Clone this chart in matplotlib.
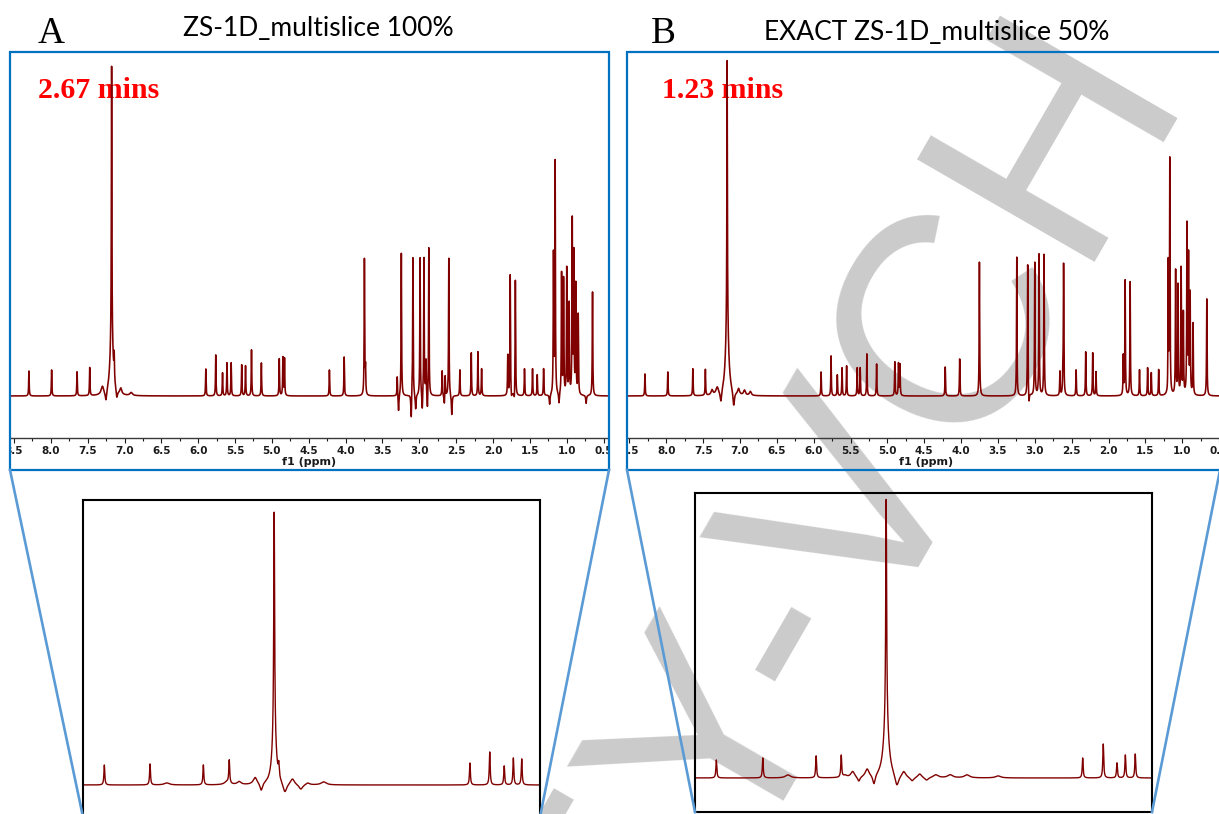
import numpy as np
import matplotlib
matplotlib.use("Agg")
import matplotlib.pyplot as plt
from matplotlib.patches import Rectangle
from matplotlib.lines import Line2D

W, H = 1219, 814

# ---- peak tables (shift in ppm, height in px above baseline)
a_ppm = [8.297, 7.989, 7.644, 7.472, 7.175, 7.14, 5.897, 5.762, 5.67, 5.61, 5.553,
         5.41, 5.358, 5.277, 5.143, 4.90, 4.851, 4.829, 4.22, 4.02, 3.745, 3.73,
         3.30, 3.244, 3.087, 2.99, 2.937, 2.871, 2.91, 2.69, 2.65, 2.60, 2.45,
         2.295, 2.205, 2.155, 1.80, 1.767, 1.697, 1.573, 1.464, 1.40, 1.314,
         1.18, 1.157, 1.07, 1.043, 1.00, 0.967, 0.925, 0.904, 0.877, 0.844, 0.65]
a_height = [25, 26, 24, 28, 274, 24, 27, 41, 23, 33, 33,
            31, 30, 46, 33, 37, 38, 37, 26, 39, 136, 25,
            20, 143, 140, 138, 138, 149, 34, 25, 22, 138, 26,
            43, 44, 27, 40, 121, 117, 27, 27, 21, 27,
            139, 232, 121, 115, 126, 90, 173, 139, 109, 80, 104]
# broad parts, ringing and phase dips: shift, height, half width
a_broad_ppm = [7.175, 7.30, 7.252, 7.105, 7.05, 6.91, 3.282, 3.11, 3.05, 2.96, 2.89,
               2.66, 2.56, 1.75, 1.71, 1.232, 1.105, 0.737]
a_broad_height = [56, 8, -11, -9, 6, 3, -17, -25, -15, -19, -19,
                  -11, -20, -6, -10, -10, -11, -8]
a_broad_width = [0.025, 0.02, 0.012, 0.012, 0.015, 0.02, 0.006, 0.006, 0.006, 0.006, 0.006,
                 0.006, 0.006, 0.006, 0.006, 0.006, 0.006, 0.006]

b_ppm = [8.29, 7.98, 7.64, 7.47, 7.175, 5.90, 5.765, 5.68, 5.616, 5.554, 5.41, 5.37,
         5.279, 5.147, 4.90, 4.85, 4.83, 4.216, 4.02, 3.752, 3.245, 3.097, 3.001,
         2.943, 2.875, 2.66, 2.62, 2.61, 2.44, 2.31, 2.215, 2.17, 1.80, 1.775, 1.707,
         1.58, 1.47, 1.42, 1.32, 1.19, 1.169, 1.09, 1.057, 1.015, 0.985, 0.936,
         0.915, 0.893, 0.853, 0.667]
b_height = [22, 24, 27, 26, 267, 24, 40, 21, 28, 30, 28, 28,
            42, 32, 34, 32, 31, 29, 37, 134, 144, 132, 133,
            141, 141, 24, 20, 130, 26, 44, 43, 24, 39, 115, 114,
            26, 28, 23, 26, 131, 234, 124, 109, 126, 81, 168,
            136, 99, 76, 97]
b_broad_ppm = [7.175, 7.38, 7.31, 7.26, 7.086, 7.02, 6.94, 6.86, 3.24, 3.08, 1.20, 0.85]
b_broad_height = [69, 5, 7, -12, -15, 6, 5, 4, -9, -12, -5, -6]
b_broad_width = [0.025, 0.015, 0.02, 0.012, 0.012, 0.015, 0.015, 0.015, 0.006, 0.006,
                 0.006, 0.006]

# expanded region under each spectrum
za_ppm = [7.382, 7.322, 7.252, 7.218, 7.159, 7.153, 6.902, 6.876, 6.857, 6.845, 6.834]
za_height = [20, 21, 20, 23, 228, 12, 22, 33, 19, 27, 26]
za_broad_ppm = [7.159, 7.30, 7.221, 7.205, 7.184, 7.176, 7.145, 7.135, 7.124, 7.115, 7.094]
za_broad_height = [45, 2, 3, 3, 7, -8, -10, 6, -5, 2, 3]
za_broad_width = [0.0033, 0.004, 0.004, 0.003, 0.003, 0.002, 0.003, 0.003, 0.003, 0.003, 0.004]

zb_ppm = [7.382, 7.321, 7.251, 7.218, 7.159, 6.901, 6.874, 6.856, 6.845, 6.832]
zb_height = [18, 20, 22, 22, 224, 20, 34, 15, 23, 24]
zb_broad_ppm = [7.159, 7.288, 7.213, 7.203, 7.195, 7.184, 7.175, 7.145, 7.136, 7.125,
                7.115, 7.106, 7.094, 7.075, 7.053, 7.012]
zb_broad_height = [55, 3, 2, 6, -5, 8, -10, -12, 6, -4, 4, -3, 3, 3, 3, 2]
zb_broad_width = [0.004, 0.004, 0.003, 0.003, 0.002, 0.003, 0.002, 0.003, 0.003, 0.003,
                  0.003, 0.003, 0.004, 0.004, 0.004, 0.004]

ppm_ticks = [8.5, 8.0, 7.5, 7.0, 6.5, 6.0, 5.5, 5.0, 4.5, 4.0, 3.5, 3.0, 2.5, 2.0, 1.5, 1.0, 0.5]
ppm_minor = [8.25, 7.75, 7.25, 6.75, 6.25, 5.75, 5.25, 4.75, 4.25, 3.75, 3.25, 2.75,
             2.25, 1.75, 1.25, 0.75]

SPEC = '#800000'
BLUE = '#0070C0'
LIGHTBLUE = '#5B9BD5'


def fbox(x0, y0, x1, y1):
    # pixel box (top-left origin) -> figure fraction rect
    return [x0 / W, 1 - y1 / H, (x1 - x0) / W, (y1 - y0) / H]


def lorentz_sum(grid, pos, hgt, wid):
    y = np.zeros_like(grid)
    for p, h, w in zip(pos, hgt, wid):
        y += h / (1 + ((grid - p) / w) ** 2)
    return y


fig = plt.figure(figsize=(W / 100, H / 100), dpi=100)

# watermark, behind everything
fig.text(1190 / W, 1 - 95 / H, 'WILEY-VCH', rotation=60, rotation_mode='anchor',
         ha='right', va='baseline', fontsize=214, family='Liberation Sans',
         color='#cbcbcb', zorder=-1)


def top_panel(frame, axbox, xlim, pos, hgt, bpos, bhgt, bwid, timing, tx):
    rect = Rectangle((frame[0] / W, 1 - frame[3] / H), (frame[2] - frame[0]) / W,
                     (frame[3] - frame[1]) / H, transform=fig.transFigure,
                     fill=False, edgecolor=BLUE, lw=1.6, zorder=1)
    fig.patches.append(rect)

    ax = fig.add_axes(fbox(*axbox))
    ax.set_facecolor('none')
    grid = np.linspace(8.7, 0.2, 26000)
    y = lorentz_sum(grid, pos, hgt, [0.004] * len(pos)) + lorentz_sum(grid, bpos, bhgt, bwid)
    ax.plot(grid, y, color=SPEC, lw=1.15, zorder=2)
    ax.set_xlim(*xlim)
    ax.set_ylim(-42, 343)
    for s in ['top', 'left', 'right']:
        ax.spines[s].set_visible(False)
    ax.spines['bottom'].set_color('#3a3a3a')
    ax.spines['bottom'].set_linewidth(1.0)
    ax.set_yticks([])
    ax.set_xticks(ppm_ticks)
    ax.set_xticklabels(['%.1f' % t for t in ppm_ticks])
    ax.set_xticks(ppm_minor, minor=True)
    ax.tick_params(axis='x', which='major', length=3.5, width=0.8, pad=2.5,
                   labelsize=7.5, colors='#1a1a1a')
    ax.tick_params(axis='x', which='minor', length=2.5, width=0.8, colors='#1a1a1a')
    for lab in ax.get_xticklabels():
        lab.set_fontweight('bold')
        lab.set_clip_on(True)
        lab.set_clip_path(rect)
    ax.set_xlabel('f1 (ppm)', fontsize=8, fontweight='bold', labelpad=0.3, color='#1a1a1a')
    ax.text(tx / W, 1 - 98 / H, timing, transform=fig.transFigure, color='#ff0000',
            fontsize=21.5, fontweight='bold', family='Liberation Serif', zorder=1)
    return ax


def zoom_panel(axbox, ylim, pos, hgt, bpos, bhgt, bwid):
    ax = fig.add_axes(fbox(*axbox))
    ax.set_facecolor('none')
    grid = np.linspace(7.45, 6.77, 9000)
    y = lorentz_sum(grid, pos, hgt, [0.0007] * len(pos)) + lorentz_sum(grid, bpos, bhgt, bwid)
    ax.plot(grid, y, color=SPEC, lw=1.0)
    ax.set_xlim(7.41, 6.81)
    ax.set_ylim(*ylim)
    ax.set_xticks([])
    ax.set_yticks([])
    for s in ax.spines.values():
        s.set_color('black')
        s.set_linewidth(1.5)
    return ax


frame_a = (10, 52, 609, 470)
frame_b = (627, 52, 1224, 470)
zoom_a = (83, 500, 540, 817)
zoom_b = (695, 493, 1152, 812)

top_panel(frame_a, (11, 53, 608, 438), (8.54, 0.44), a_ppm, a_height,
          a_broad_ppm, a_broad_height, a_broad_width, '2.67 mins', 38)
top_panel(frame_b, (628, 53, 1225, 438), (8.52, 0.42), b_ppm, b_height,
          b_broad_ppm, b_broad_height, b_broad_width, '1.23 mins', 662)
zoom_panel(zoom_a, (-32, 285), za_ppm, za_height, za_broad_ppm, za_broad_height, za_broad_width)
zoom_panel(zoom_b, (-34, 285), zb_ppm, zb_height, zb_broad_ppm, zb_broad_height, zb_broad_width)

# connector lines from spectrum frame to the expansion
for frame, zbox, right_x in [(frame_a, zoom_a, frame_a[2]), (frame_b, zoom_b, 1220)]:
    fig.add_artist(Line2D([frame[0] / W, zbox[0] / W], [1 - frame[3] / H, 1 - zbox[3] / H],
                          transform=fig.transFigure, color=LIGHTBLUE, lw=1.9, zorder=2))
    fig.add_artist(Line2D([right_x / W, zbox[2] / W], [1 - frame[3] / H, 1 - zbox[3] / H],
                          transform=fig.transFigure, color=LIGHTBLUE, lw=1.9, zorder=2))

# panel letters and titles
fig.text(38 / W, 1 - 43 / H, 'A', family='Liberation Serif', fontsize=27)
fig.text(651 / W, 1 - 43 / H, 'B', family='Liberation Serif', fontsize=27)
fig.text(318 / W, 1 - 36 / H, 'ZS-1D_multislice 100%', family='Lato', fontsize=19,
         ha='center', va='baseline')
fig.text(937 / W, 1 - 40 / H, 'EXACT ZS-1D_multislice 50%', family='Lato', fontsize=19,
         ha='center', va='baseline')

fig.savefig('out.png', dpi=100)
